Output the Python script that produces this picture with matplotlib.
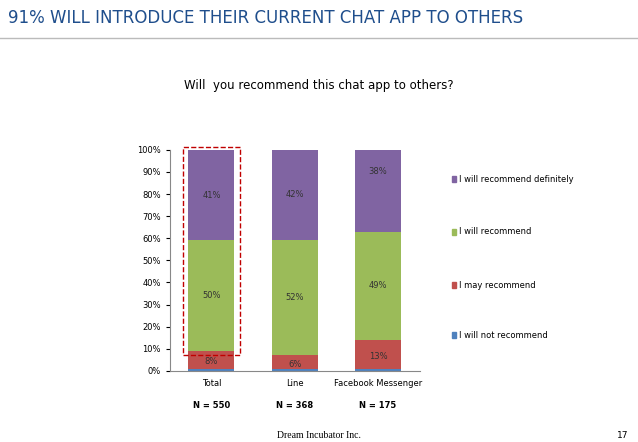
import matplotlib.pyplot as plt
import matplotlib.patches as mpatches
import numpy as np

categories = ["Total", "Line", "Facebook Messenger"]
sample_sizes = ["N = 550", "N = 368", "N = 175"]
series_names = ["I will not recommend", "I may recommend", "I will recommend", "I will recommend definitely"]
not_recommend = [1, 1, 1]
may_recommend = [8, 6, 13]
will_recommend = [50, 52, 49]
definitely = [41, 42, 38]
colors = ["#4F81BD", "#C0504D", "#9BBB59", "#8064A2"]

fig = plt.figure(figsize=(6.38, 4.42), dpi=100)
ax = fig.add_axes([0.266, 0.161, 0.392, 0.5])

x = np.arange(len(categories))
series = [not_recommend, may_recommend, will_recommend, definitely]
bottom = np.zeros(len(categories))
for vals, c in zip(series, colors):
    ax.bar(x, vals, 0.55, bottom=bottom, color=c, zorder=2)
    bottom += np.array(vals)
bottom = np.zeros(len(categories))
for k, vals in enumerate(series):
    for i, v in enumerate(vals):
        if k > 0:
            yy = bottom[i] + v / 2
            if k == 1:
                yy = bottom[i] + v / 2 - 1
            if k == 3:
                yy = bottom[i] + v / 2 + (0 if i < 2 else 8)
            ax.text(x[i], yy, f"{v}%", ha="center", va="center", fontsize=6, color="#333333")
    bottom += np.array(vals)

ax.set_xlim(-0.5, 2.5)
ax.set_ylim(0, 100)
ax.set_yticks(range(0, 101, 10))
ax.set_yticklabels([f"{t}%" for t in range(0, 101, 10)], fontsize=6)
ax.set_xticks(x)
ax.set_xticklabels(categories, fontsize=6)
ax.tick_params(axis="x", length=0, pad=6)
ax.tick_params(axis="y", length=3)
for s in ["top", "right"]:
    ax.spines[s].set_visible(False)
for s in ["left", "bottom"]:
    ax.spines[s].set_color("#888888")

rect = mpatches.Rectangle((-0.34, 7), 0.68, 94.5, fill=False, ls="--", ec="#C00000", lw=1, clip_on=False, zorder=3)
ax.add_patch(rect)

for i, n in enumerate(sample_sizes):
    ax.text(x[i], -0.155, n, transform=ax.get_xaxis_transform(), ha="center", va="center",
            fontsize=6, fontweight="bold")

leg_y = [179, 232, 285, 335]
for name, c, yp in zip(series_names[::-1], colors[::-1], leg_y):
    fy = 1 - yp / 442
    fig.patches.append(mpatches.Rectangle((452 / 638, fy - 0.007), 0.007, 0.014, color=c, transform=fig.transFigure))
    fig.text(459 / 638, fy, name, fontsize=6, va="center")

fig.text(8 / 638, 1 - 18 / 442, "91% WILL INTRODUCE THEIR CURRENT CHAT APP TO OTHERS", fontsize=12, color="#1F4E8C", va="center")
fig.add_artist(plt.Line2D([0, 1], [1 - 38 / 442] * 2, color="#BBBBBB", lw=1, transform=fig.transFigure))
fig.text(0.5, 1 - 86 / 442, "Will  you recommend this chat app to others?", fontsize=8.5, ha="center", va="center")
fig.text(0.5, 1 - 436 / 442, "Dream Incubator Inc.", fontsize=7, ha="center", va="center", family="Liberation Serif")
fig.text(628 / 638, 1 - 436 / 442, "17", fontsize=6.5, ha="right", va="center")

fig.savefig("out.png", dpi=100)
